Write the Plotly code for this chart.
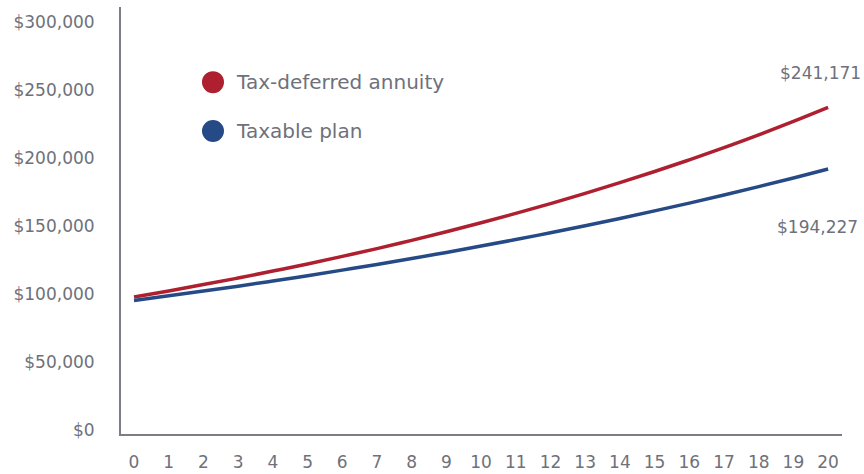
import plotly.graph_objects as go

years = list(range(0, 21))
x_tick_labels = [str(y) for y in years]

annuity_values = [97800, 102200, 106900, 111700, 116800, 122000, 127600, 133300, 139400, 145700,
                  152300, 159200, 166400, 173900, 181800, 190000, 198600, 207600, 217000, 226900, 237200]
taxable_values = [95200, 98600, 102100, 105700, 109500, 113400, 117500, 121700, 126000, 130500,
                  135200, 140000, 145000, 150200, 155500, 161100, 166800, 172800, 178900, 185300, 191900]

series_names = ["Tax-deferred annuity", "Taxable plan"]
end_labels = ["$241,171", "$194,227"]
y_tick_values = [0, 50000, 100000, 150000, 200000, 250000, 300000]
y_tick_labels = ["$0", "$50,000", "$100,000", "$150,000", "$200,000", "$250,000", "$300,000"]

RED = "#AE1F2F"
BLUE = "#264A86"
TEXT = "#6E717B"
AXIS = "#7B7E86"
FONT = "DejaVu Sans, Liberation Sans, Arial, sans-serif"

fig = go.Figure()
fig.add_trace(go.Scatter(x=years, y=annuity_values, mode="lines", name=series_names[0],
                         line=dict(color=RED, width=3.5, shape="spline"), showlegend=False))
fig.add_trace(go.Scatter(x=years, y=taxable_values, mode="lines", name=series_names[1],
                         line=dict(color=BLUE, width=3.5, shape="spline"), showlegend=False))

# end value labels
fig.add_annotation(x=1, xref="paper", xanchor="right", xshift=21, y=262500, yref="y",
                   text=end_labels[0], showarrow=False, font=dict(size=17, color=TEXT, family=FONT))
fig.add_annotation(x=1, xref="paper", xanchor="right", xshift=18, y=149300, yref="y",
                   text=end_labels[1], showarrow=False, font=dict(size=17, color=TEXT, family=FONT))

# legend (manual)
for name, color, py in [(series_names[0], RED, 0.824), (series_names[1], BLUE, 0.7096)]:
    fig.add_shape(type="circle", xref="paper", yref="paper", xsizemode="pixel", ysizemode="pixel",
                  xanchor=0.1276, yanchor=py, x0=-11, x1=11, y0=-11, y1=11,
                  fillcolor=color, line=dict(width=0))
    fig.add_annotation(x=0.157, xref="paper", xanchor="left", y=py, yref="paper", yanchor="middle",
                       text=name, showarrow=False, font=dict(size=20, color=TEXT, family=FONT))

fig.update_layout(
    width=864, height=474,
    margin=dict(l=121, r=22, t=7, b=40, autoexpand=False),
    paper_bgcolor="white", plot_bgcolor="white",
    font=dict(family=FONT, color=TEXT, size=17),
    xaxis=dict(range=[-0.375, 20.4], tickmode="array", tickvals=years, ticktext=x_tick_labels,
               showgrid=False, zeroline=False, showline=True, linecolor=AXIS, linewidth=2,
               ticks="", ticklabelstandoff=12, automargin=False,
               tickfont=dict(size=17, color=TEXT, family=FONT)),
    yaxis=dict(range=[-3000, 311000], tickmode="array", tickvals=y_tick_values, ticktext=y_tick_labels,
               showgrid=False, zeroline=False, showline=True, linecolor=AXIS, linewidth=2,
               ticks="", ticklabelstandoff=21, automargin=False,
               tickfont=dict(size=17, color=TEXT, family=FONT)),
)

fig.write_html("out.html", config={"displayModeBar": False},
               post_script="document.body.style.margin='0px';document.body.style.overflow='hidden';")
